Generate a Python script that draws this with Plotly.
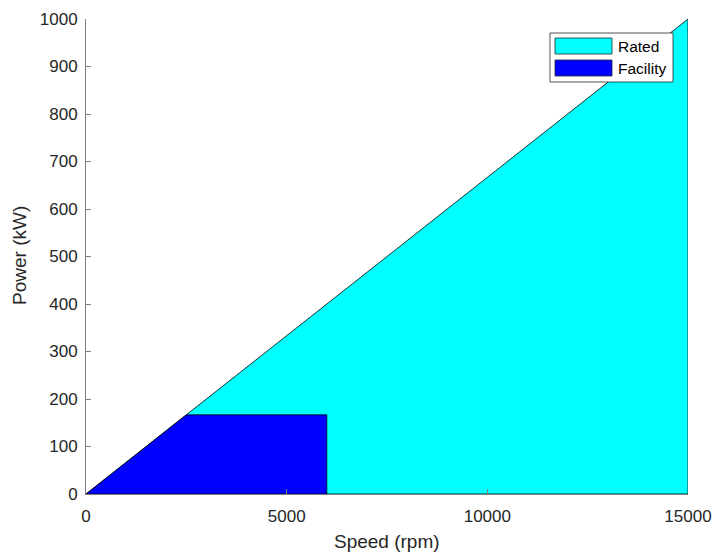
import plotly.graph_objects as go

# Data
rated_speed = [0, 15000, 15000, 0]
rated_power = [0, 1000, 0, 0]
facility_speed = [0, 2500, 6000, 6000, 0]
facility_power = [0, 166.67, 166.67, 0, 0]
series_names = ["Rated", "Facility"]
series_colors = ["#00FFFF", "#0000FF"]
x_ticks = [0, 5000, 10000, 15000]
y_ticks = [0, 100, 200, 300, 400, 500, 600, 700, 800, 900, 1000]

FONT = "Liberation Sans, Arial, Helvetica, sans-serif"
TXT = "#262626"
AX = "#808080"

fig = go.Figure()
fig.add_trace(go.Scatter(x=rated_speed, y=rated_power, mode="lines", fill="toself",
                         fillcolor=series_colors[0], line=dict(color="black", width=0.8),
                         name=series_names[0], showlegend=False, cliponaxis=False,
                         hoverinfo="skip"))
fig.add_trace(go.Scatter(x=facility_speed, y=facility_power, mode="lines", fill="toself",
                         fillcolor=series_colors[1], line=dict(color="black", width=0.8),
                         name=series_names[1], showlegend=False, cliponaxis=False,
                         hoverinfo="skip"))

W, H = 714, 552
L, R, T, B = 86, 26, 19, 58
pw, ph = W - L - R, H - T - B

def px(x):
    return (x - L) / pw

def py(y):
    return (H - B - y) / ph

shapes = []
annotations = []
# legend box
shapes.append(dict(type="rect", xref="paper", yref="paper",
                   x0=px(550), x1=px(673), y0=py(33), y1=py(82),
                   fillcolor="white", line=dict(color=TXT, width=0.8)))
sw_y = [(38, 54), (60, 76)]
for i, name in enumerate(series_names):
    y0, y1 = sw_y[i]
    shapes.append(dict(type="rect", xref="paper", yref="paper",
                       x0=px(555), x1=px(612), y0=py(y0), y1=py(y1),
                       fillcolor=series_colors[i], line=dict(color=TXT, width=0.8)))
    annotations.append(dict(xref="paper", yref="paper", x=px(616), y=py((y0 + y1) / 2),
                            text=name, showarrow=False, xanchor="left", yanchor="middle",
                            font=dict(family=FONT, size=15.5, color="black")))

# axis titles
annotations.append(dict(xref="paper", yref="paper", x=px(387), y=py(541),
                        text="Speed (rpm)", showarrow=False, xanchor="center", yanchor="middle",
                        font=dict(family=FONT, size=19, color=TXT)))
annotations.append(dict(xref="paper", yref="paper", x=px(20), y=py(256),
                        text="Power (kW)", showarrow=False, xanchor="center", yanchor="middle",
                        textangle=-90, font=dict(family=FONT, size=19, color=TXT)))

fig.update_layout(
    width=W, height=H,
    margin=dict(l=L, r=R, t=T, b=B),
    paper_bgcolor="white", plot_bgcolor="white",
    font=dict(family=FONT, size=17, color=TXT),
    shapes=shapes, annotations=annotations,
    xaxis=dict(range=[0, 15000], tickvals=x_ticks, ticktext=[str(v) for v in x_ticks],
               showgrid=False, zeroline=False, showline=True, linecolor=AX, linewidth=1,
               ticks="inside", ticklen=5, tickcolor=AX, automargin=False,
               ticklabelstandoff=7, tickfont=dict(size=17, color=TXT)),
    yaxis=dict(range=[0, 1000], tickvals=y_ticks, ticktext=[str(v) for v in y_ticks],
               showgrid=False, zeroline=False, showline=True, linecolor=AX, linewidth=1,
               ticks="inside", ticklen=5, tickcolor=AX, automargin=False,
               ticklabelstandoff=4, tickfont=dict(size=17, color=TXT)),
)

fig.write_html("out.html", config={"displayModeBar": False},
               post_script="document.body.style.margin='0';document.body.style.overflow='hidden';")
